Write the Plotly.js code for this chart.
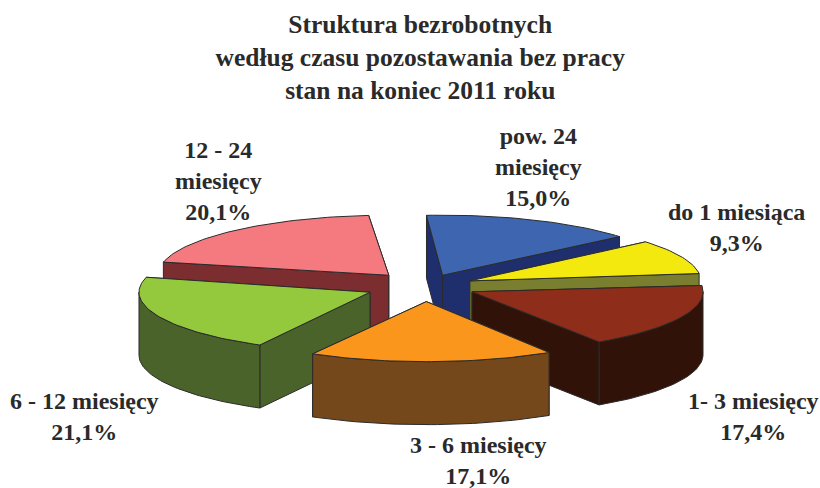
<!DOCTYPE html>
<html><head><meta charset="utf-8">
<script src="https://cdn.plot.ly/plotly-3.0.0.min.js"></script>
<style>html,body{margin:0;padding:0;background:#fff}#c{width:820px;height:488px}</style>
</head><body><div id="c"></div>
<script>
// data (clockwise from the top of the pie)
const categories = ["pow. 24 miesięcy","do 1 miesiąca","1- 3 miesięcy","3 - 6 miesięcy","6 - 12 miesięcy","12 - 24 miesięcy"];
const labelLines = ["pow. 24<br>miesięcy","do 1 miesiąca","1- 3 miesięcy","3 - 6 miesięcy","6 - 12 miesięcy","12 - 24<br>miesięcy"];
const values = [15.0, 9.3, 17.4, 17.1, 21.1, 20.1];
// styles
const topColors = ["#3E65AF","#F4E90E","#8E2D1A","#F9961B","#94C93D","#F47A80"];
const wallColors = ["#1F2F6E","#7A7F30","#311208","#74481B","#4A632B","#7B2D30"];
const pulls = [45,49,52,60,60,55];
const sliceStart = [-4,-4.5,-3.5,-2.2,-3.2,-5];
const labelX = [538,736,753,478,84,218];
const labelY = [167,227.5,416,460,416.5,181];
const drawOrder = [5,0,1,4,2,3];
const titleText = "Struktura bezrobotnych<br>według czasu pozostawania bez pracy<br>stan na koniec 2011 roku";
// projection
const CX=425, CY=286, R=231, K=0.26, DEPTH=63;
const LINE="#2b2b2b", TXT="#2a2a2a", FONT='"Liberation Serif","Times New Roman",serif';

const total = values.reduce((a,b)=>a+b,0);
let cum=0;
const slices = values.map((v,i)=>{
  const a0=sliceStart[i]+cum/total*360; cum+=v; const a1=sliceStart[i]+cum/total*360;
  const m=(a0+a1)/2*Math.PI/180;
  return {i,a0,a1,ox:CX+pulls[i]*Math.sin(m),oy:CY-K*pulls[i]*Math.cos(m)};
});
const pt=(s,deg,d=0)=>{const t=deg*Math.PI/180;return [s.ox+R*Math.sin(t),s.oy-K*R*Math.cos(t)+d];};
function arc(s,a,b,d=0){const n=Math.max(2,Math.ceil(Math.abs(b-a)/1.5));const o=[];for(let j=0;j<=n;j++)o.push(pt(s,a+(b-a)*j/n,d));return o;}
function poly(points,fill,name){
  const xs=points.map(p=>p[0]),ys=points.map(p=>p[1]);xs.push(xs[0]);ys.push(ys[0]);
  return {type:"scatter",mode:"lines",x:xs,y:ys,fill:"toself",fillcolor:fill,
    line:{color:LINE,width:1,shape:"linear"},name:name,hoverinfo:"name",showlegend:false};
}
const traces=[];
drawOrder.forEach(i=>{
  const s=slices[i],name=categories[i]+": "+values[i].toFixed(1).replace(".",",")+"%";
  const o=[s.ox,s.oy],o2=[s.ox,s.oy+DEPTH];
  const walls=[s.a0,s.a1].map(a=>{const p=pt(s,a),q=pt(s,a,DEPTH);return {my:p[1],pts:[o,p,q,o2]};});
  walls.sort((u,v)=>u.my-v.my).forEach(w=>traces.push(poly(w.pts,wallColors[i],name)));
  // outer rim wall: only the part facing the viewer (90..270 degrees)
  const lo=Math.max(s.a0,90),hi=Math.min(s.a1,270);
  if(hi>lo) traces.push(poly(arc(s,lo,hi).concat(arc(s,hi,lo,DEPTH)),wallColors[i],name));
  traces.push(poly([o].concat(arc(s,s.a0,s.a1)),topColors[i],name));
});
const annotations=categories.map((c,i)=>({
  x:labelX[i],y:labelY[i],xref:"x",yref:"y",showarrow:false,align:"center",xanchor:"center",yanchor:"middle",
  text:labelLines[i]+"<br>"+values[i].toFixed(1).replace(".",",")+"%",
  font:{family:FONT,size:24,color:TXT,weight:700}
}));
const layout={
  width:820,height:488,margin:{l:0,r:0,t:0,b:0},paper_bgcolor:"#fff",plot_bgcolor:"#fff",showlegend:false,
  title:{text:titleText,x:0.5125,xanchor:"center",y:0.933,yanchor:"middle",font:{family:FONT,size:25.5,color:TXT,weight:700}},
  xaxis:{range:[0,820],visible:false,fixedrange:true},
  yaxis:{range:[488,0],visible:false,fixedrange:true},
  annotations
};
Plotly.newPlot("c",traces,layout,{displayModeBar:false,staticPlot:false});
</script></body></html>
